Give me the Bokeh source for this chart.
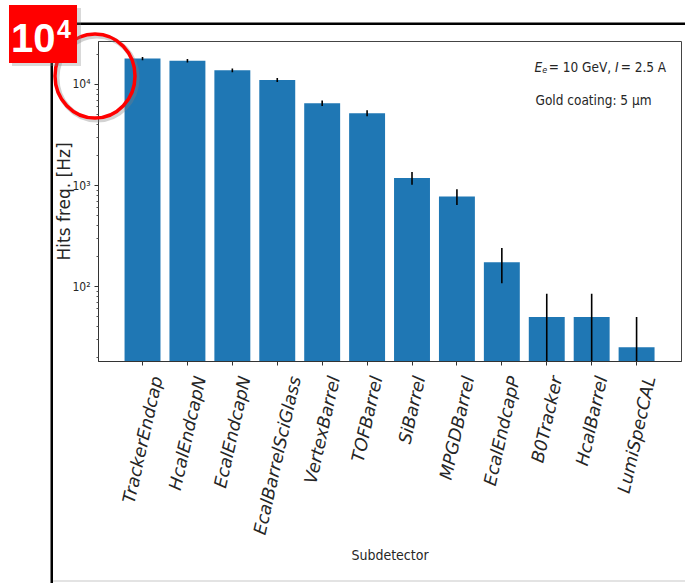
import math

from bokeh.layouts import column
from bokeh.models import Div, FixedTicker, Label, LinearAxis, Range1d
from bokeh.plotting import figure
from bokeh.embed import file_html
from bokeh.resources import INLINE

# ---------------- data ----------------
subdetectors = ["TrackerEndcap", "HcalEndcapN", "EcalEndcapN", "EcalBarrelSciGlass",
                "VertexBarrel", "TOFBarrel", "SiBarrel", "MPGDBarrel", "EcalEndcapP",
                "B0Tracker", "HcalBarrel", "LumiSpecCAL"]
hit_rate = [18100, 17200, 13800, 11100, 6530, 5200, 1190, 780, 174, 50, 50, 25]
hit_rate_err = [670, 655, 590, 525, 400, 360, 172, 139, 66, 35, 35, 25]
y_major_ticks = [100, 1000, 10000]
y_major_labels = ["10²", "10³", "10⁴"]
x_axis_title = "Subdetector"
y_axis_title = "Hits freq. [Hz]"
coating_note = "Gold coating: 5 μm"
badge_base, badge_exp = "10", "4"

# ---------------- layout ----------------
PAGE_W, PAGE_H = 685, 583
FRAME_L, FRAME_R, FRAME_T, FRAME_B = 98, 681, 41, 361
X_RANGE = (-0.98, 12.0)

SANS = "DejaVu Sans"
COND = "'DejaVu Sans Condensed', 'DejaVu Sans', sans-serif"
TEXT = "#262626"
BAR = "#1f77b4"

# DejaVu Sans advance widths (1/1000 em), used to centre rotated labels
GLYPH_W = {"T": 611, "r": 411, "a": 613, "c": 550, "k": 579, "e": 615, "E": 632,
           "n": 634, "d": 635, "p": 635, "H": 752, "l": 278, "N": 748, "B": 686,
           "S": 635, "i": 278, "G": 775, "s": 521, "V": 684, "x": 592, "O": 787,
           "F": 575, "M": 863, "P": 603, "D": 770, "g": 635, "0": 636, "C": 698,
           "A": 684, "L": 557, "u": 634, "m": 974, "o": 612, "R": 695, "I": 295,
           "t": 392, "q": 635, "b": 635, "y": 592, "1": 636, "2": 636, "5": 636,
           "=": 838, " ": 318, ",": 318, ".": 318, ":": 337, "μ": 636}


def text_width(s, size_px, squeeze=1.0):
    return sum(GLYPH_W.get(ch, 600) for ch in s) / 1000 * size_px * squeeze


def sx(px):
    """page x -> screen units from the frame's left edge"""
    return px - FRAME_L


def sy(py):
    """page y (downwards) -> screen units from the frame's bottom edge"""
    return FRAME_B - py


# ---------------- main chart ----------------
p = figure(width=PAGE_W, height=PAGE_H,
           x_range=Range1d(*X_RANGE), y_range=Range1d(18.1, 26650),
           y_axis_type="log", output_backend="svg", toolbar_location=None,
           min_border_left=FRAME_L, min_border_right=PAGE_W - FRAME_R,
           min_border_top=FRAME_T, min_border_bottom=PAGE_H - FRAME_B)
p.xgrid.visible = False
p.ygrid.visible = False
p.outline_line_color = "#444444"
p.outline_line_width = 1

xs = list(range(len(subdetectors)))

# tick marks under every bar (names come from the second axis below)
p.xaxis.ticker = FixedTicker(ticks=xs, minor_ticks=[])
p.xaxis.major_label_overrides = {i: "" for i in xs}
p.xaxis.major_label_standoff = 0
p.xaxis.major_tick_out = 4
p.xaxis.major_tick_in = 0
p.xaxis.minor_tick_out = 0
p.xaxis.axis_line_color = "#333333"
p.xaxis.major_tick_line_color = "#333333"

# rotated category names, each shifted so its box is centred on the bar
ANG = math.radians(77.3)
XT_SIZE = 17.5
px_per_unit = (FRAME_R - FRAME_L) / (X_RANGE[1] - X_RANGE[0])
label_pos = [i + text_width(n, XT_SIZE) * math.cos(ANG) / 2 / px_per_unit
             for i, n in zip(xs, subdetectors)]
name_axis = LinearAxis(ticker=FixedTicker(ticks=label_pos, minor_ticks=[]),
                       major_label_overrides=dict(zip(label_pos, subdetectors)),
                       major_label_orientation=ANG,
                       major_label_standoff=11,
                       major_label_text_font=SANS,
                       major_label_text_font_style="italic",
                       major_label_text_font_size=f"{XT_SIZE}px",
                       major_label_text_color=TEXT,
                       axis_label=x_axis_title,
                       axis_label_standoff=5,
                       axis_label_text_font=COND,
                       axis_label_text_font_style="normal",
                       axis_label_text_font_size="14px",
                       axis_label_text_color=TEXT,
                       axis_line_color=None, major_tick_line_color=None,
                       minor_tick_line_color=None, major_tick_out=0, major_tick_in=0)
p.add_layout(name_axis, "below")

# y axis: log decades with 2..9 minor ticks
minor = [m * d for d in (10, 100, 1000, 10000) for m in range(2, 10)]
p.yaxis.ticker = FixedTicker(ticks=y_major_ticks, minor_ticks=minor)
p.yaxis.major_label_overrides = dict(zip(y_major_ticks, y_major_labels))
p.yaxis.major_label_text_font = COND
p.yaxis.major_label_text_font_size = "12px"
p.yaxis.major_label_text_color = TEXT
p.yaxis.major_label_standoff = 4
p.yaxis.major_tick_out = 4
p.yaxis.major_tick_in = 0
p.yaxis.minor_tick_out = 2
p.yaxis.minor_tick_in = 0
p.yaxis.axis_line_color = "#333333"
p.yaxis.major_tick_line_color = "#333333"
p.yaxis.minor_tick_line_color = "#555555"
p.yaxis.axis_label = y_axis_title
p.yaxis.axis_label_standoff = -5
p.yaxis.axis_label_text_font = SANS
p.yaxis.axis_label_text_font_style = "normal"
p.yaxis.axis_label_text_font_size = "17px"
p.yaxis.axis_label_text_color = TEXT

# bars and error bars
p.vbar(x=xs, top=hit_rate, bottom=1, width=0.8, fill_color=BAR, line_color=None)
lower = [max(v - e, 1) for v, e in zip(hit_rate, hit_rate_err)]
upper = [v + e for v, e in zip(hit_rate, hit_rate_err)]
p.segment(x0=xs, y0=lower, x1=xs, y1=upper, line_color="black", line_width=1.6)

# beam conditions note (inside the frame, top right): text pieces and the gap after each
NOTE_SIZE = 13.5
SQ = 0.9  # condensed face
segments = [("E", "italic", NOTE_SIZE, 0, 0.0), ("e", "italic", 9, 3, 1.5),
            ("= 10 GeV,", "normal", NOTE_SIZE, 0, 4.0), ("I", "italic", NOTE_SIZE, 0, 2.0),
            ("= 2.5 A", "normal", NOTE_SIZE, 0, 0.0)]
cursor = 534
for txt, style, size, drop, gap in segments:
    p.add_layout(Label(x=sx(cursor), y=sy(66 + drop), x_units="screen", y_units="screen",
                       text=txt, text_align="left", text_baseline="alphabetic",
                       text_font=COND, text_font_style=style,
                       text_font_size=f"{size}px", text_color=TEXT))
    cursor += text_width(txt, size, SQ) + gap
p.add_layout(Label(x=sx(535), y=sy(99), x_units="screen", y_units="screen",
                   text=coating_note, text_align="left", text_baseline="alphabetic",
                   text_font=COND, text_font_size=f"{NOTE_SIZE}px", text_color=TEXT))

# ---------------- page decorations: slide frame, badge and highlight ring ----------------
decor_svg = f"""
<svg xmlns="http://www.w3.org/2000/svg" width="{PAGE_W}" height="{PAGE_H}" style="display:block">
  <rect x="50.5" y="22.5" width="640" height="2.5" fill="black"/>
  <rect x="50.5" y="22.5" width="2.5" height="570" fill="black"/>
  <rect x="53" y="580.5" width="640" height="1" fill="#c8c8c8"/>
  <ellipse cx="97" cy="78" rx="40" ry="42" fill="none" stroke="#7f7f7f"
           stroke-opacity="0.35" stroke-width="5"/>
  <ellipse cx="95" cy="76" rx="40" ry="42" fill="none" stroke="#ff0000" stroke-width="3.5"/>
  <rect x="12" y="8" width="69" height="58" fill="#808080" fill-opacity="0.3"/>
  <rect x="9" y="5" width="68" height="58" fill="#ff0000"/>
  <text x="11" y="52" font-family="Liberation Sans" font-weight="bold" font-size="40px"
        fill="white">{badge_base}</text>
  <text x="57" y="38" font-family="Liberation Sans" font-weight="bold" font-size="25px"
        fill="white">{badge_exp}</text>
</svg>
"""
decor = Div(text=decor_svg, width=PAGE_W, height=PAGE_H,
            styles={"position": "absolute", "left": "0px", "top": "0px",
                    "z-index": "2", "pointer-events": "none", "margin": "0px",
                    "padding": "0px"})

page = column(p, decor)
open("out.html", "w").write(file_html(page, INLINE))
